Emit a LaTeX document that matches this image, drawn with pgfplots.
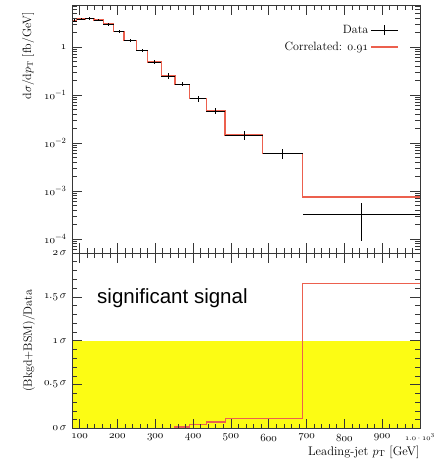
\documentclass[border=0pt]{standalone}
\usepackage{pgfplots}
\usepackage{pgfplotstable}
\pgfplotsset{compat=1.18}
\usepackage{fontspec}
\newfontfamily\sigfont{Liberation Sans}
\definecolor{corr}{RGB}{236,96,78}
\definecolor{band}{RGB}{252,252,20}
\definecolor{frm}{RGB}{55,55,55}

\pgfplotstableread{
x ex y ey
86 6 3.5 0.25
103.5 11.5 3.85 0.25
126.5 11.5 3.88 0.25
150.5 12.5 3.65 0.25
176.5 13.5 3.0 0.2
204 14 2.08 0.14
234 16 1.38 0.1
265 15 0.85 0.06
298 18 0.49 0.04
334 18 0.25 0.034
371.5 19.5 0.167 0.016
413 22 0.084 0.0114
460 25 0.046 0.0066
534.5 49.5 0.0147 0.0031
637 53 0.0061 0.0014
845 155 0.00033 0.00024
}\datatab

\pgfplotsset{
  panel/.style={
    scale only axis, width=348pt, xmin=80, xmax=1000,
    tick align=inside, tick pos=both,
    major tick length=10pt, minor tick length=5pt,
    xtick={100,200,...,1000}, minor x tick num=4,
    every tick/.append style={frm, line width=0.6pt},
    axis line style={frm, line width=0.8pt},
    tick label style={font=\fontsize{11}{13}\selectfont},
    axis on top,
  },
}

\begin{document}
\begin{tikzpicture}
\useasboundingbox (0pt,0pt) rectangle (433pt,462pt);

\begin{axis}[panel, at={(72pt,209pt)}, anchor=south west, height=248pt,
  ymode=log, ymin=5.1e-5, ymax=7.5,
  ytick={1e-4,1e-3,1e-2,1e-1,1},
  minor ytick={6e-5,7e-5,8e-5,9e-5,2e-4,3e-4,4e-4,5e-4,6e-4,7e-4,8e-4,9e-4,2e-3,3e-3,4e-3,5e-3,6e-3,7e-3,8e-3,9e-3,2e-2,3e-2,4e-2,5e-2,6e-2,7e-2,8e-2,9e-2,0.2,0.3,0.4,0.5,0.6,0.7,0.8,0.9,2,3,4,5,6,7},
  yticklabels={$\mathnormal{10}^{-4}$,$\mathnormal{10}^{-3}$,$\mathnormal{10}^{-2}$,$\mathnormal{10}^{-1}$,$\mathnormal{1}$},
  xticklabels={},
  yticklabel style={xshift=-2pt},
  ylabel={$\mathrm{d}\sigma/\mathrm{d}p_\mathrm{T}$ [fb/GeV]},
  ylabel style={at={(axis description cs:-0.1264,0.985)}, anchor=east, font=\fontsize{12}{14}\selectfont},
  legend style={at={(axis description cs:0.948,0.935)}, anchor=north east, draw=none, fill=none,
    font=\fontsize{12}{14}\selectfont, row sep=3pt, cells={anchor=east}},
  legend plot pos=right,
]
\addplot[black, line width=0.65pt, only marks, mark=-, mark size=0pt,
  legend image code/.code={\draw[black, line width=0.8pt] (0pt,0pt) -- (27pt,0pt); \draw[black, line width=0.8pt] (13.5pt,-5pt) -- (13.5pt,5pt);},
  error bars/.cd, x dir=both, x explicit, y dir=both, y explicit, error mark=none,
  error bar style={black, line width=0.65pt, solid}]
  table[x=x, y=y, x error=ex, y error=ey] {\datatab};
\addlegendentry{Data}
\addplot[corr, line width=1.5pt, const plot, mark=none,
  legend image code/.code={\draw[corr, line width=1.4pt] (0pt,0pt) -- (27pt,0pt);}]
  coordinates {(80,3.55) (92,3.85) (115,3.88) (138,3.65) (163,3.0) (190,2.08) (218,1.38) (250,0.85) (280,0.49) (316,0.25) (352,0.167) (391,0.084) (435,0.046) (485,0.0147) (584,0.0061) (690,0.00074) (1000,0.00074)};
\addlegendentry{Correlated: $\mathnormal{0.91}$}
\addplot[forget plot, black, line width=0.65pt, only marks, mark=-, mark size=0pt,
  error bars/.cd, x dir=both, x explicit, y dir=both, y explicit, error mark=none,
  error bar style={black, line width=0.65pt, solid}]
  table[x=x, y=y, x error=ex, y error=ey] {\datatab};
\end{axis}

\begin{axis}[panel, at={(72pt,33.5pt)}, anchor=south west, height=175.5pt,
  ymin=0, ymax=2,
  ytick={0,0.5,1,1.5,2}, minor y tick num=4,
  yticklabels={$\mathnormal{0}\,\sigma$,$\mathnormal{0.5}\,\sigma$,$\mathnormal{1}\,\sigma$,$\mathnormal{1.5}\,\sigma$,$\mathnormal{2}\,\sigma$},
  xticklabels={$\mathnormal{100}$,$\mathnormal{200}$,$\mathnormal{300}$,$\mathnormal{400}$,$\mathnormal{500}$,$\mathnormal{600}$,$\mathnormal{700}$,$\mathnormal{800}$,$\mathnormal{900}$,{\fontsize{8.5}{9}\selectfont$\mathnormal{1.0}\cdot\mathnormal{10}^{3}$}},
  yticklabel style={xshift=-2pt},
  xticklabel style={yshift=-2pt},
  ylabel={(Bkgd+BSM)/Data},
  ylabel style={at={(axis description cs:-0.1236,0.5)}, anchor=center, font=\fontsize{12}{14}\selectfont},
  xlabel={Leading-jet $p_\mathrm{T}$ [GeV]},
  xlabel style={at={(axis description cs:1.0086,-0.134)}, anchor=east, font=\fontsize{12.5}{14}\selectfont},
]
\addplot[draw=none, fill=band, forget plot] coordinates {(80,1) (1000,1)} \closedcycle;
\addplot[corr, line width=1.3pt, const plot, mark=none]
  coordinates {(80,0) (352,0.018) (391,0.049) (435,0.075) (485,0.11) (584,0.11) (690,1.65) (1000,1.65)};
\end{axis}

\node[anchor=base west, inner sep=0pt, font=\sigfont\fontsize{20.5}{24}\selectfont] at (97pt,158pt) {significant signal};
\end{tikzpicture}
\end{document}
